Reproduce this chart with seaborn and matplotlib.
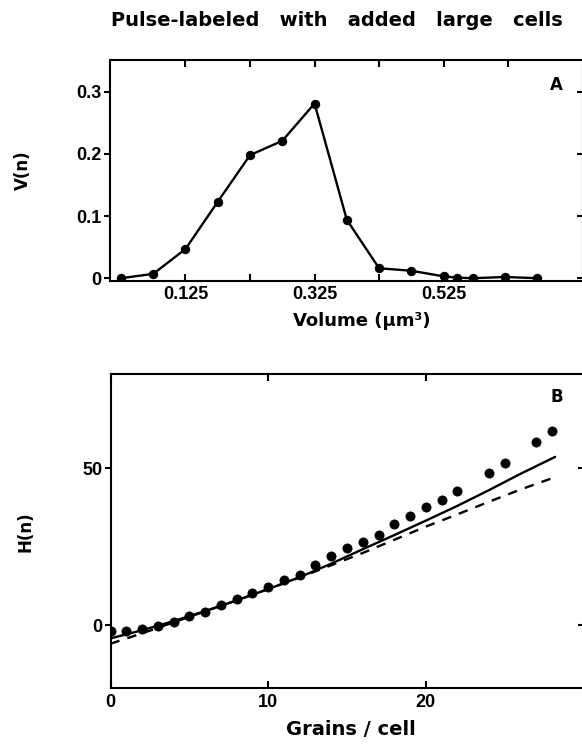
import seaborn as sns
import matplotlib.pyplot as plt
import numpy as np
import pandas as pd
from matplotlib.ticker import FixedLocator

width, height, my_dpi = 582, 750, 100

# panel A: volume distribution V(n)
volume = [0.025, 0.075, 0.125, 0.175, 0.225, 0.275, 0.325, 0.375, 0.425, 0.475, 0.525, 0.545, 0.57, 0.62, 0.67]
v_n = [0.0, 0.007, 0.047, 0.123, 0.198, 0.221, 0.281, 0.094, 0.016, 0.012, 0.003, 0.001, 0.0, 0.002, 0.0]

# panel B: H(n) vs grains per cell
grains = [0, 1, 2, 3, 4, 5, 6, 7, 8, 9, 10, 11, 12, 13, 14, 15, 16, 17, 18, 19, 20, 21, 22, 24, 25, 27, 28]
h_n = [-2.0, -1.7, -1.2, -0.3, 1.0, 2.8, 4.2, 6.4, 8.4, 10.3, 12.1, 14.5, 16.1, 19.1, 22.1, 24.5,
       26.4, 28.6, 32.2, 34.9, 37.7, 40.0, 42.8, 48.6, 51.8, 58.5, 61.9]

# model curves
fit_x = [0, 2, 4, 6, 8, 10, 12, 14, 16, 18, 20, 22, 24, 26, 28.2]
fit_solid = [-4.2, -1.6, 1.3, 4.5, 7.9, 11.5, 15.3, 19.6, 24.2, 28.7, 33.3, 38.0, 43.0, 48.2, 53.6]
fit_dash_x = [0, 2, 4, 6, 8, 10, 12, 14, 16, 18, 20, 22, 24, 26, 28]
fit_dashed = [-5.9, -2.6, 0.9, 4.4, 7.9, 11.5, 15.2, 19.1, 23.0, 27.2, 31.4, 35.3, 39.3, 43.2, 46.8]

df_a = pd.DataFrame({'volume': volume, 'V': v_n})
df_b = pd.DataFrame({'grains': grains, 'H': h_n})
df_s = pd.DataFrame({'x': fit_x, 'y': fit_solid})
df_d = pd.DataFrame({'x': fit_dash_x, 'y': fit_dashed})

sns.set_style('ticks')
plt.rcParams['font.family'] = ['DejaVu Sans']
plt.rcParams['font.weight'] = 'bold'
plt.rcParams['axes.linewidth'] = 1.5
plt.rcParams['text.color'] = 'black'
plt.rcParams['axes.labelcolor'] = 'black'
plt.rcParams['axes.edgecolor'] = 'black'
plt.rcParams['xtick.color'] = 'black'
plt.rcParams['ytick.color'] = 'black'

fig = plt.figure(figsize=(width / my_dpi, height / my_dpi), dpi=my_dpi)
axA = fig.add_axes([110 / width, 1 - 280.7 / height, 473 / width, 220.7 / height])
axB = fig.add_axes([110.5 / width, 1 - 688 / height, 473 / width, 314 / height])

# ---- panel A
sns.lineplot(data=df_a, x='volume', y='V', ax=axA, color='black', lw=1.7,
             marker='o', markersize=6, markeredgecolor='black')
axA.set_xlim(0.008, 0.741)
axA.set_ylim(-0.004, 0.351)
axA.xaxis.set_major_locator(FixedLocator([0.125, 0.325, 0.525]))
axA.xaxis.set_minor_locator(FixedLocator([0.225, 0.425, 0.625]))
axA.set_xticklabels(['0.125', '0.325', '0.525'])
axA.set_yticks([0, 0.1, 0.2, 0.3])
axA.set_yticklabels(['0', '0.1', '0.2', '0.3'])
axA.set_xlabel('Volume (µm³)', fontsize=13, fontweight='bold')
axA.set_ylabel('V(n)', fontsize=12, fontweight='bold')
axA.xaxis.set_label_coords(0.533, -0.14)
axA.yaxis.set_label_coords(-0.165, 0.5)
axA.text(0.943, 0.887, 'A', transform=axA.transAxes, ha='center', va='center',
         fontsize=12, fontweight='bold')

# ---- panel B
sns.lineplot(data=df_s, x='x', y='y', ax=axB, color='black', lw=1.7)
sns.lineplot(data=df_d, x='x', y='y', ax=axB, color='black', lw=1.7, linestyle=(0, (4, 3.5)))
sns.scatterplot(data=df_b, x='grains', y='H', ax=axB, color='black', s=44, edgecolor='black', zorder=3)
axB.set_xlim(0, 30)
axB.set_ylim(-20, 80)
axB.set_xticks([0, 10, 20])
axB.set_xticklabels(['0', '10', '20'])
axB.set_yticks([0, 50])
axB.set_yticklabels(['0', '50'])
axB.set_xlabel('Grains / cell', fontsize=14, fontweight='bold')
axB.set_ylabel('H(n)', fontsize=12, fontweight='bold')
axB.xaxis.set_label_coords(0.508, -0.103)
axB.yaxis.set_label_coords(-0.16, 0.497)
axB.text(0.944, 0.927, 'B', transform=axB.transAxes, ha='center', va='center',
         fontsize=12, fontweight='bold')

for ax in (axA, axB):
    for s in ax.spines.values():
        s.set_visible(True)
        s.set_linewidth(1.5)
    ax.tick_params(axis='x', which='both', direction='in', top=True, bottom=True,
                   length=5, width=1.5, labelsize=13, pad=4)
    ax.tick_params(axis='y', which='both', direction='out', left=True, right=False,
                   length=4, width=1.5, labelsize=13, pad=2)
    # inward ticks on the right side
    sec = ax.secondary_yaxis('right')
    sec.set_yticks(ax.get_yticks())
    sec.tick_params(direction='in', length=4, width=1.5, labelright=False)
    for lab in ax.get_xticklabels() + ax.get_yticklabels():
        lab.set_fontweight('bold')
        lab.set_family(['Liberation Sans'])

fig.text(337 / width, 1 - 20 / height, 'Pulse-labeled   with   added   large   cells',
         ha='center', va='center', fontsize=14, fontweight='bold')

plt.savefig('out.png', dpi=my_dpi)
